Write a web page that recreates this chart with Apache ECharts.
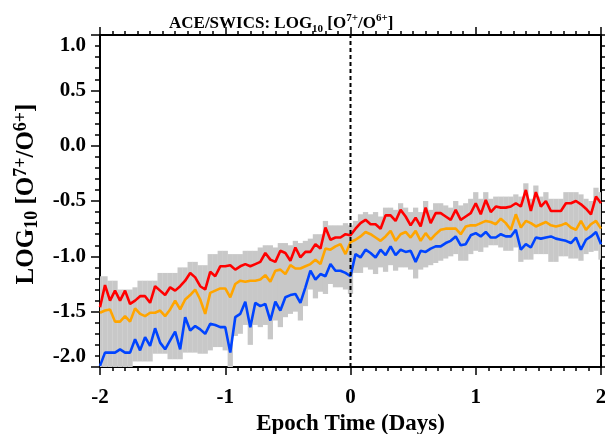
<!DOCTYPE html>
<html>
<head>
<meta charset="utf-8">
<script src="https://cdn.jsdelivr.net/npm/echarts@6/dist/echarts.min.js"></script>
<style>html,body{margin:0;padding:0;background:#fff}#c{width:605px;height:434px}</style>
</head>
<body>
<div id="c"></div>
<script>
// Epoch times in days, hourly samples (0.04 day) from -2 to 2
const epochDays = Array.from({length: 101}, (_, i) => +(-2 + i * 0.04).toFixed(2));

const redVals = [
 -1.46,-1.26,-1.40,-1.31,-1.40,-1.31,-1.43,-1.40,-1.36,-1.36,-1.42,-1.27,-1.31,-1.35,-1.28,-1.31,-1.27,-1.22,-1.15,-1.19,-1.27,-1.30,-1.14,-1.18,-1.09,-1.09,
 -1.08,-1.12,-1.09,-1.07,-1.09,-1.07,-1.05,-0.97,-1.03,-1.05,-0.95,-0.97,-1.04,-0.92,-1.01,-0.96,-0.96,-0.89,-0.93,-0.74,-0.85,-0.83,-0.83,-0.80,-0.81,
 -0.75,-0.70,-0.67,-0.71,-0.71,-0.75,-0.63,-0.63,-0.68,-0.58,-0.64,-0.72,-0.65,-0.73,-0.56,-0.70,-0.61,-0.61,-0.64,-0.67,-0.58,-0.67,-0.64,-0.61,-0.52,-0.62,
 -0.49,-0.60,-0.55,-0.56,-0.56,-0.55,-0.52,-0.55,-0.40,-0.59,-0.42,-0.55,-0.50,-0.59,-0.59,-0.59,-0.52,-0.52,-0.50,-0.53,-0.57,-0.62,-0.46,-0.52
];
const orangeVals = [
 -1.51,-1.49,-1.48,-1.59,-1.59,-1.54,-1.59,-1.47,-1.52,-1.54,-1.51,-1.51,-1.49,-1.54,-1.48,-1.40,-1.48,-1.39,-1.35,-1.30,-1.39,-1.52,-1.33,-1.31,-1.29,-1.29,
 -1.37,-1.25,-1.22,-1.23,-1.22,-1.22,-1.21,-1.17,-1.23,-1.13,-1.12,-1.16,-1.08,-1.11,-1.11,-1.09,-1.07,-1.03,-1.07,-0.93,-0.94,-0.91,-0.89,-0.98,-0.87,
 -0.85,-0.82,-0.78,-0.80,-0.83,-0.86,-0.82,-0.77,-0.86,-0.80,-0.78,-0.83,-0.77,-0.86,-0.79,-0.85,-0.80,-0.76,-0.75,-0.75,-0.75,-0.80,-0.73,-0.72,-0.72,-0.70,
 -0.68,-0.69,-0.71,-0.66,-0.70,-0.76,-0.62,-0.74,-0.68,-0.70,-0.73,-0.71,-0.69,-0.72,-0.73,-0.72,-0.70,-0.74,-0.76,-0.68,-0.76,-0.71,-0.68,-0.75
];
const blueVals = [
 -1.99,-1.87,-1.87,-1.87,-1.84,-1.87,-1.87,-1.75,-1.85,-1.73,-1.81,-1.65,-1.78,-1.84,-1.76,-1.68,-1.84,-1.55,-1.67,-1.63,-1.66,-1.70,-1.61,-1.62,-1.64,-1.64,
 -1.87,-1.55,-1.52,-1.41,-1.64,-1.42,-1.45,-1.43,-1.58,-1.41,-1.49,-1.37,-1.35,-1.34,-1.42,-1.28,-1.13,-1.21,-1.16,-1.18,-1.07,-1.13,-1.13,-1.15,-1.18,
 -0.98,-1.01,-0.94,-0.97,-1.01,-0.94,-0.99,-0.91,-0.99,-0.94,-0.96,-0.95,-1.05,-0.95,-0.96,-0.93,-0.91,-0.91,-0.88,-0.86,-0.82,-0.90,-0.89,-0.81,-0.79,-0.82,
 -0.78,-0.83,-0.83,-0.80,-0.82,-0.82,-0.76,-0.94,-0.89,-0.92,-0.83,-0.84,-0.83,-0.82,-0.84,-0.85,-0.86,-0.88,-0.83,-0.94,-0.85,-0.82,-0.78,-0.89
];
const greyUpper = [
 -1.18,-1.18,-1.22,-1.22,-1.30,-1.30,-1.30,-1.28,-1.22,-1.22,-1.22,-1.22,-1.15,-1.15,-1.15,-1.15,-1.10,-1.10,-1.05,-1.05,-1.08,-1.08,-0.98,-0.98,-0.95,-0.95,
 -0.98,-0.98,-0.98,-0.95,-0.95,-0.95,-0.92,-0.90,-0.90,-0.92,-0.88,-0.88,-0.90,-0.86,-0.88,-0.86,-0.84,-0.80,-0.80,-0.68,-0.72,-0.72,-0.72,-0.70,-0.72,
 -0.68,-0.62,-0.60,-0.62,-0.60,-0.64,-0.56,-0.56,-0.58,-0.52,-0.56,-0.60,-0.56,-0.60,-0.50,-0.58,-0.52,-0.52,-0.54,-0.56,-0.50,-0.54,-0.52,-0.48,-0.42,-0.48,
 -0.42,-0.48,-0.46,-0.46,-0.46,-0.46,-0.44,-0.46,-0.34,-0.48,-0.36,-0.46,-0.42,-0.48,-0.48,-0.48,-0.42,-0.42,-0.42,-0.44,-0.48,-0.50,-0.38,-0.42
];
const greyLower = [
 -2.00,-2.00,-2.00,-2.00,-2.00,-2.00,-2.00,-1.95,-1.95,-1.95,-1.95,-1.88,-1.88,-1.88,-1.93,-1.93,-1.93,-1.87,-1.87,-1.87,-1.88,-1.88,-1.85,-1.82,-1.82,-1.85,
 -2.00,-1.72,-1.70,-1.62,-1.80,-1.62,-1.64,-1.62,-1.75,-1.58,-1.64,-1.55,-1.52,-1.50,-1.58,-1.45,-1.30,-1.38,-1.32,-1.34,-1.25,-1.28,-1.28,-1.30,-1.34,
 -1.15,-1.15,-1.10,-1.12,-1.16,-1.10,-1.14,-1.08,-1.13,-1.10,-1.10,-1.12,-1.20,-1.12,-1.10,-1.08,-1.06,-1.04,-1.02,-1.00,-0.98,-1.04,-1.04,-0.98,-0.95,-0.96,
 -0.92,-0.90,-0.90,-0.92,-0.95,-0.95,-0.92,-1.05,-1.03,-1.03,-0.98,-0.98,-0.98,-1.05,-1.05,-1.00,-1.00,-1.02,-1.02,-1.04,-0.98,-0.96,-0.95,-1.03
];
const xTicks = [-2, -1, 0, 1, 2];
const yTicks = [-2.0, -1.5, -1.0, -0.5, 0.0, 0.5, 1.0];

const FONT = 'Liberation Serif';
const pair = arr => epochDays.map((t, i) => [t, arr[i]]);
const band = epochDays.map((t, i) => [t, greyLower[i], greyUpper[i]]);
const HALF = 0.021;

const tickStyle = {color: '#000', width: 1.5};
function xAx(pos, labels) {
  return {
    type: 'value', position: pos, min: xTicks[0], max: xTicks[xTicks.length - 1], interval: 1,
    axisLine: {show: true, onZero: false, lineStyle: {color: '#000', width: 2}},
    axisTick: {show: true, length: 8, lineStyle: tickStyle},
    minorTick: {show: true, splitNumber: 10, length: 4, lineStyle: tickStyle},
    splitLine: {show: false}, minorSplitLine: {show: false},
    axisLabel: {show: labels, margin: 20, fontFamily: FONT, fontWeight: 'bold', fontSize: 21, color: '#000'},
    name: labels ? 'Epoch Time (Days)' : '', nameLocation: 'middle', nameGap: 43,
    nameTextStyle: {fontFamily: FONT, fontWeight: 'bold', fontSize: 23, color: '#000'}
  };
}
function yAx(pos, labels) {
  return {
    type: 'value', position: pos, min: yTicks[0], max: yTicks[yTicks.length - 1], interval: 0.5,
    axisLine: {show: true, onZero: false, lineStyle: {color: '#000', width: 2}},
    axisTick: {show: true, length: 9, lineStyle: tickStyle},
    minorTick: {show: true, splitNumber: 5, length: 5, lineStyle: tickStyle},
    splitLine: {show: false}, minorSplitLine: {show: false},
    axisLabel: {show: labels, margin: 14, fontFamily: FONT, fontWeight: 'bold', fontSize: 21, color: '#000',
      formatter: v => v.toFixed(1), verticalAlignMaxLabel: 'top', verticalAlignMinLabel: 'bottom'},
    name: labels ? 'LOG{sub|10} [O{sup|7+}/O{sup|6+}]' : '', nameLocation: 'middle', nameGap: 59,
    nameTextStyle: {fontFamily: FONT, fontWeight: 'bold', fontSize: 25, color: '#000', lineHeight: 29, padding: [0, 0, 0, 14],
      rich: {
        sub: {fontFamily: FONT, fontWeight: 'bold', fontSize: 18, lineHeight: 18, verticalAlign: 'bottom', color: '#000'},
        sup: {fontFamily: FONT, fontWeight: 'bold', fontSize: 18, lineHeight: 18, verticalAlign: 'top', color: '#000'}
      }}
  };
}

const chart = echarts.init(document.getElementById('c'), null, {renderer: 'canvas'});
chart.setOption({
  animation: false,
  backgroundColor: '#fff',
  title: {
    text: 'ACE/SWICS: LOG{sub|10} [O{sup|7+}/O{sup|6+}]',
    left: 164, top: 8,
    textStyle: {fontFamily: FONT, fontWeight: 'bold', fontSize: 17, color: '#000', lineHeight: 22,
      rich: {
        sub: {fontFamily: FONT, fontWeight: 'bold', fontSize: 11, lineHeight: 11, verticalAlign: 'bottom', color: '#000'},
        sup: {fontFamily: FONT, fontWeight: 'bold', fontSize: 11, lineHeight: 11, verticalAlign: 'top', color: '#000'}
      }}
  },
  grid: {left: 100, right: 4, top: 35, bottom: 67, outerBoundsMode: 'none', containLabel: false},
  xAxis: [xAx('bottom', true), xAx('top', false)],
  yAxis: [yAx('left', true), yAx('right', false)],
  series: [
    {
      type: 'custom', clip: true, data: band, z: 1,
      renderItem: (params, api) => {
        const t = api.value(0), lo = api.value(1), hi = api.value(2);
        const p1 = api.coord([t - HALF, hi]);
        const p2 = api.coord([t + HALF, lo]);
        return {type: 'rect', shape: {x: p1[0], y: p1[1], width: p2[0] - p1[0], height: p2[1] - p1[1]},
          style: {fill: '#c8c8c8'}};
      }
    },
    {type: 'line', data: pair(redVals), showSymbol: false, z: 3, lineStyle: {color: '#ff0000', width: 2.6}, clip: true},
    {type: 'line', data: pair(orangeVals), showSymbol: false, z: 3, lineStyle: {color: '#ffa500', width: 2.6}, clip: true},
    {type: 'line', data: pair(blueVals), showSymbol: false, z: 3, lineStyle: {color: '#0044ff', width: 2.6}, clip: true},
    {type: 'line', data: [[0, yTicks[0]], [0, yTicks[yTicks.length - 1]]], showSymbol: false, z: 4,
      lineStyle: {color: '#000', width: 2, type: [4, 3]}}
  ]
});
</script>
</body>
</html>
